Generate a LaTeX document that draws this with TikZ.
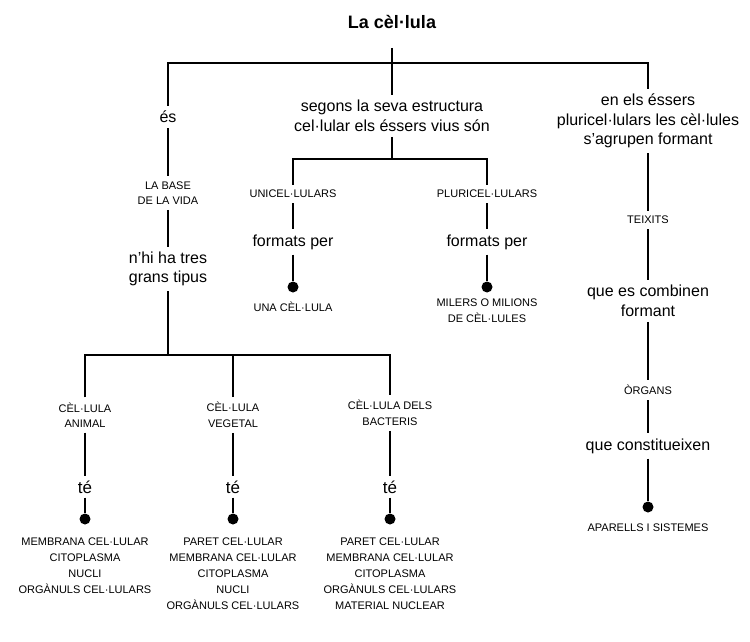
\documentclass[tikz,border=0pt]{standalone}
\usepackage{fontspec}
\setmainfont{Liberation Sans}
\usetikzlibrary{positioning}
\tikzset{%
	heading/.style  = {font=\fontsize{18}{20}\selectfont\bfseries, inner xsep=2pt, inner ysep=19pt},
	word/.style     = {font=\fontsize{16}{19.5}\selectfont, align=center, inner sep=5pt}, % linking words
	verb/.style     = {font=\fontsize{17}{20}\selectfont, inner sep=4pt},
	caps/.style     = {font=\fontsize{11}{15.5}\selectfont, align=center, inner sep=5pt}, % concepts
	leaf/.style     = {font=\fontsize{11}{16}\selectfont, align=center, inner sep=0pt}, % end lists
	bullet/.style   = {circle, fill, inner sep=0pt, minimum size=11pt},
	waypoint/.style = {coordinate},
	link/.style     = {line width=2.4pt},
}

\begin{document}
\begin{tikzpicture}[x=1pt, y=1pt]
	\useasboundingbox (0,0) rectangle (750,-642);
	\node[heading] (cell) at (392,-22) {La cèl·lula};
	\node[waypoint] (top) at (392,-63) {};
	\node[word] (segons) at (392,-116) {segons la seva estructura\\cel·lular els éssers vius són};
	\node[word] (es) at (168,-117) {és};
	\node[word] (grow) at (648,-121) {en els éssers\\pluricel·lulars les cèl·lules\\s'agrupen formant};

	% left branch
	\node[caps, below of=es, node distance=76pt] (base) {LA BASE\\DE LA VIDA};
	\node[word, below of=base, node distance=76pt] (tipus) {n'hi ha tres\\grans tipus};
	\node[waypoint, below of=tipus, node distance=86pt] (fork) {};
	\node[waypoint, left of=fork, node distance=83pt] (forkA) {};
	\node[waypoint, right of=fork, node distance=65pt] (forkV) {};
	\node[waypoint, right of=fork, node distance=222pt] (forkB) {};
	\node[caps, below of=forkA, node distance=60pt] (animal) {CÈL·LULA\\ANIMAL};
	\node[caps, below of=forkV, node distance=60pt] (vegetal) {CÈL·LULA\\VEGETAL};
	\node[caps, below of=forkB, node distance=58pt] (bacteris) {CÈL·LULA DELS\\BACTERIS};
	\node[verb, below of=animal, node distance=72pt] (teA) {té};
	\node[verb, below of=vegetal, node distance=72pt] (teV) {té};
	\node[verb, below of=bacteris, node distance=74pt] (teB) {té};
	\node[bullet, below of=teA, node distance=32pt] (dotA) {};
	\node[bullet, below of=teV, node distance=32pt] (dotV) {};
	\node[bullet, below of=teB, node distance=32pt] (dotB) {};
	\node[leaf, below of=dotA, node distance=47pt] (listA) {MEMBRANA CEL·LULAR\\CITOPLASMA\\NUCLI\\ORGÀNULS CEL·LULARS};
	\node[leaf, below of=dotV, node distance=55pt] (listV) {PARET CEL·LULAR\\MEMBRANA CEL·LULAR\\CITOPLASMA\\NUCLI\\ORGÀNULS CEL·LULARS};
	\node[leaf, below of=dotB, node distance=55pt] (listB) {PARET CEL·LULAR\\MEMBRANA CEL·LULAR\\CITOPLASMA\\ORGÀNULS CEL·LULARS\\MATERIAL NUCLEAR};

	% middle branch
	\node[waypoint, below of=segons, node distance=43pt] (midfork) {};
	\node[waypoint, left of=midfork, node distance=99pt] (forkU) {};
	\node[waypoint, right of=midfork, node distance=95pt] (forkP) {};
	\node[caps, below of=forkU, node distance=35pt] (unicel) {UNICEL·LULARS};
	\node[caps, below of=forkP, node distance=35pt] (pluricel) {PLURICEL·LULARS};
	\node[word, below of=unicel, node distance=48pt] (formU) {formats per};
	\node[word, below of=pluricel, node distance=48pt] (formP) {formats per};
	\node[bullet, below of=formU, node distance=45pt] (dotU) {};
	\node[bullet, below of=formP, node distance=45pt] (dotP) {};
	\node[leaf, below of=dotU, node distance=20pt] (una) {UNA CÈL·LULA};
	\node[leaf, below of=dotP, node distance=24pt] (milers) {MILERS O MILIONS\\DE CÈL·LULES};

	% right branch
	\node[caps, below of=grow, node distance=99pt] (teixits) {TEIXITS};
	\node[word, below of=teixits, node distance=81pt] (combina) {que es combinen\\formant};
	\node[caps, below of=combina, node distance=89pt] (organs) {ÒRGANS};
	\node[word, below of=organs, node distance=56pt] (constit) {que constitueixen};
	\node[bullet, below of=constit, node distance=61pt] (dotR) {};
	\node[leaf, below of=dotR, node distance=21pt] (aparells) {APARELLS I SISTEMES};

	\draw[link] (cell) -- (segons);
	\draw[link] (es) |- (top) -| (grow);
	\draw[link] (es) -- (base) -- (tipus) -- (fork);
	\draw[link] (animal) |- (fork) -| (bacteris);
	\draw[link] (vegetal) -- (forkV);
	\draw[link] (animal) -- (teA) -- (dotA);
	\draw[link] (vegetal) -- (teV) -- (dotV);
	\draw[link] (bacteris) -- (teB) -- (dotB);
	\draw[link] (segons) -- (midfork);
	\draw[link] (unicel) |- (midfork) -| (pluricel);
	\draw[link] (unicel) -- (formU) -- (dotU);
	\draw[link] (pluricel) -- (formP) -- (dotP);
	\draw[link] (grow) -- (teixits) -- (combina) -- (organs) -- (constit) -- (dotR);
\end{tikzpicture}
\end{document}
